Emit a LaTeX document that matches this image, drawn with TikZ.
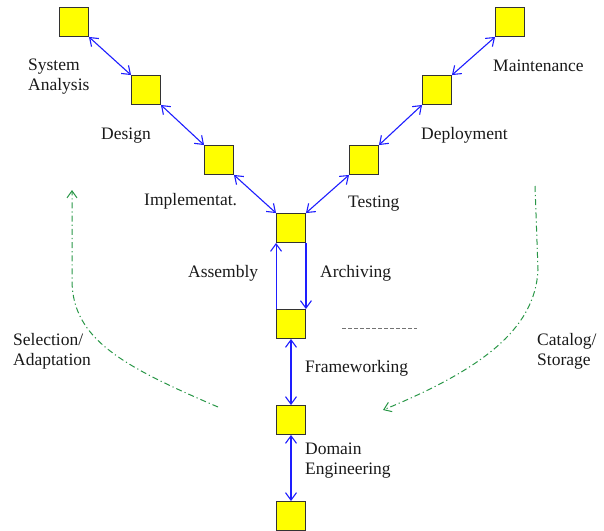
\documentclass[tikz,border=0pt]{standalone}
\usepackage{fontspec}
\setmainfont{Liberation Serif}
\usetikzlibrary{arrows.meta}
\definecolor{phasebox}{RGB}{255,255,0}
\definecolor{flowblue}{RGB}{30,30,255}
\definecolor{reusegreen}{RGB}{40,150,70}
\tikzset{
  phase/.style={draw=black!80, fill=phasebox, line width=0.9pt,
    minimum size=29pt, inner sep=0pt},
  lbl/.style={inner sep=0pt, text=black!90,
    font=\fontsize{17.5}{20}\selectfont, align=left},
  flow/.style={draw=flowblue, line width=1.1pt,
    {Straight Barb[length=7.5pt,width=11pt]}-{Straight Barb[length=7.5pt,width=11pt]}},
  oneway/.style={draw=flowblue, line width=1.1pt,
    -{Straight Barb[length=7.5pt,width=11pt]}},
  reuse/.style={draw=reusegreen, line width=1pt,
    dash pattern=on 6pt off 3pt on 1.2pt off 3pt,
    -{Straight Barb[length=7pt,width=10pt]}},
  sep/.style={draw=black!55, line width=1pt, dash pattern=on 4pt off 2pt}
}
\begin{document}
\begin{tikzpicture}[x=1pt,y=-1pt]
\useasboundingbox (0,0) rectangle (604,530);

% life-cycle phases
\node[phase] (sa)   at (74,22)  {};
\node[phase] (des)  at (146,90) {};
\node[phase] (imp)  at (219,160) {};
\node[phase] (core) at (291,228) {};
\node[phase] (tst)  at (364,160) {};
\node[phase] (dep)  at (437,90) {};
\node[phase] (mnt)  at (510,22) {};
\node[phase] (fw)   at (291,324) {};
\node[phase] (dom)  at (291,420) {};
\node[phase] (base) at (291,516) {};

% connectors between phases
\draw[flow] (sa.south east)  -- (des.north west);
\draw[flow] (des.south east) -- (imp.north west);
\draw[flow] (imp.south east) -- (core.north west);
\draw[flow] (tst.south west) -- (core.north east);
\draw[flow] (dep.south west) -- (tst.north east);
\draw[flow] (mnt.south west) -- (dep.north east);
\draw[oneway] (fw.north west) -- (core.south west);
\draw[oneway] (core.south east) -- (fw.north east);
\draw[flow] (fw.south) -- (dom.north);
\draw[flow] (dom.south) -- (base.north);

% separator
\coordinate (s1) at (342,328);
\coordinate (s2) at (417,328);
\draw[sep] (s1) -- (s2);

% reuse flows
\coordinate (l0) at (218,407);
\coordinate (l1) at (72,280);
\coordinate (l2) at (72,190);
\draw[reuse] (l0) .. controls (125,367) and (72,340) .. (l1) -- (l2);
\coordinate (r0) at (535,186);
\coordinate (r1) at (538,270);
\coordinate (r2) at (383,410);
\draw[reuse] (r0) -- (r1) .. controls (535,330) and (480,370) .. (r2);

% labels
\node[lbl, anchor=west] at (28,77) {System\\Analysis};
\node[lbl, anchor=base west] at (101,139) {Design};
\node[lbl, anchor=base west] at (144,205) {Implementat.};
\node[lbl, anchor=base west] at (493,71) {Maintenance};
\node[lbl, anchor=base west] at (421,139) {Deployment};
\node[lbl, anchor=base west] at (348,207) {Testing};
\node[lbl, anchor=base west] at (188,277) {Assembly};
\node[lbl, anchor=base west] at (320,277) {Archiving};
\node[lbl, anchor=base west] at (305,372) {Frameworking};
\node[lbl, anchor=west] at (305,461) {Domain\\Engineering};
\node[lbl, anchor=west] at (13,351) {Selection/\\Adaptation};
\node[lbl, anchor=west] at (537,351) {Catalog/\\Storage};
\end{tikzpicture}
\end{document}
